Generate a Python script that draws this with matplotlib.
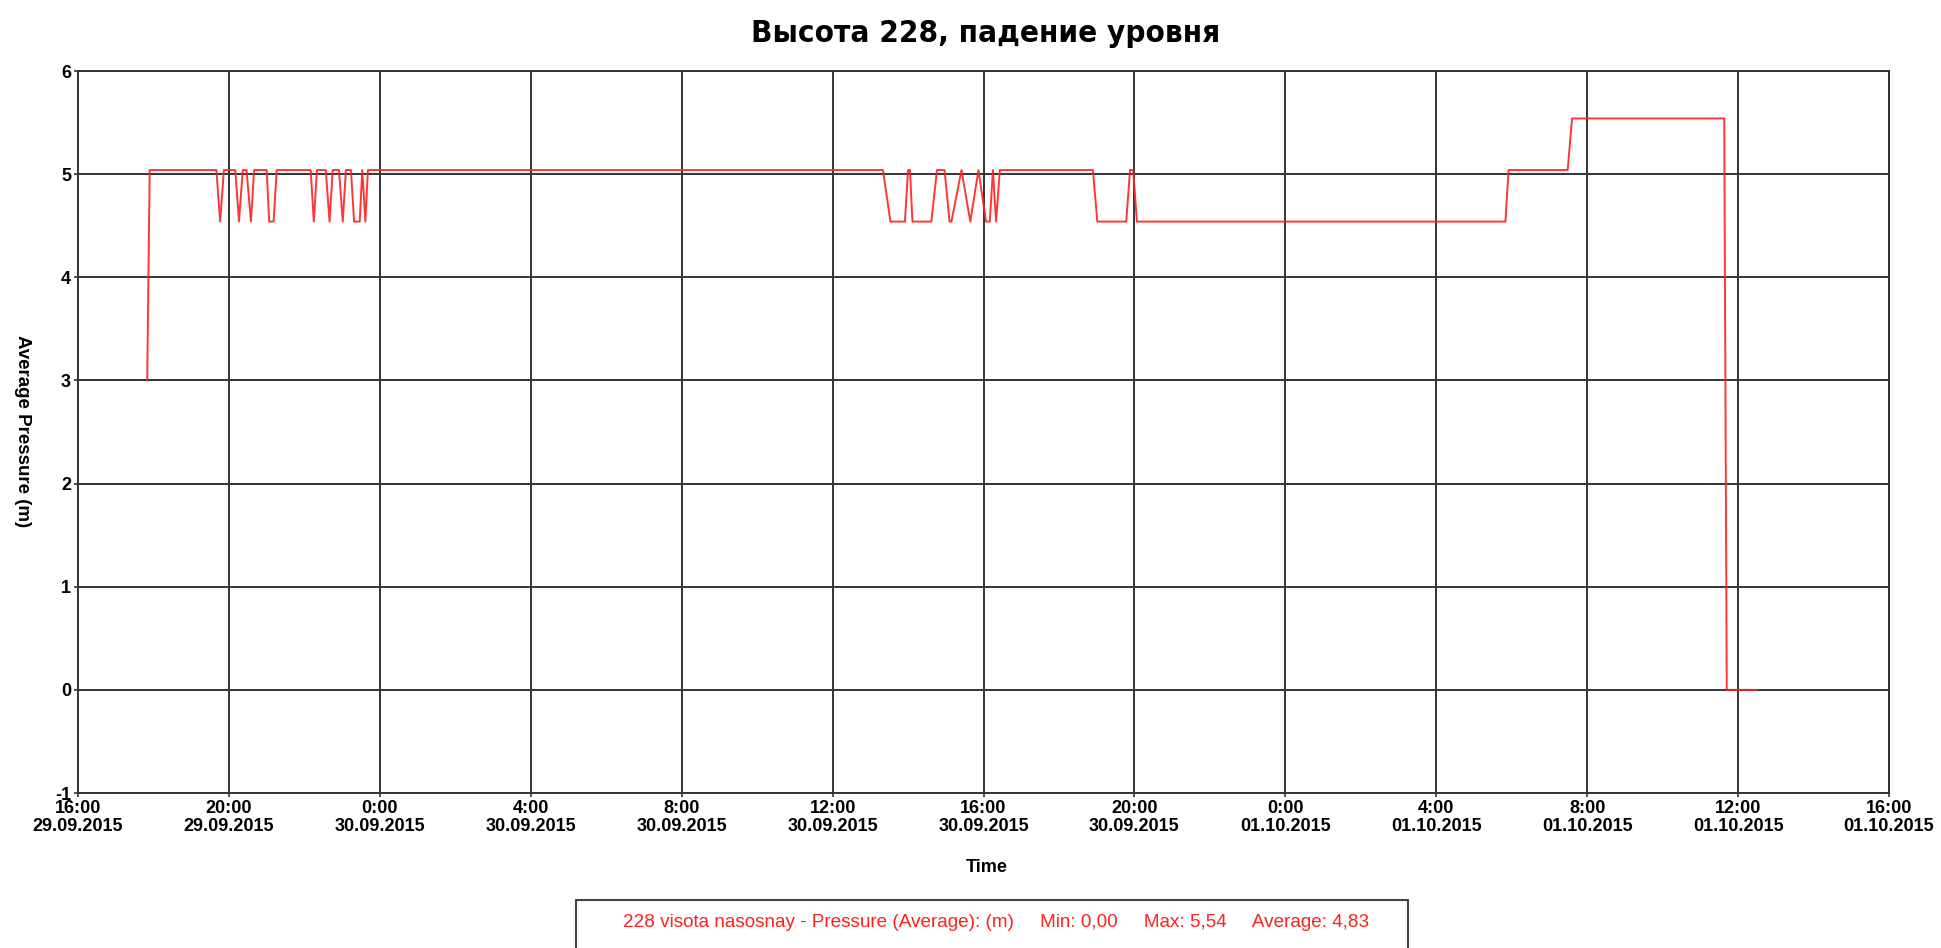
import matplotlib
matplotlib.use("Agg")
import matplotlib.pyplot as plt
import matplotlib.dates as mdates
from matplotlib.patches import Rectangle
from matplotlib.ticker import FuncFormatter, MultipleLocator
import pandas as pd

plt.rcParams["axes.unicode_minus"] = False

# levels
H, L, M = 5.04, 4.54, 5.54

times = [
    "2015-09-29 17:50", "2015-09-29 17:54",
    "2015-09-29 19:40", "2015-09-29 19:46", "2015-09-29 19:52",
    "2015-09-29 20:10", "2015-09-29 20:16", "2015-09-29 20:22",
    "2015-09-29 20:28", "2015-09-29 20:35", "2015-09-29 20:40",
    "2015-09-29 21:00", "2015-09-29 21:04", "2015-09-29 21:11", "2015-09-29 21:16",
    "2015-09-29 22:10", "2015-09-29 22:15", "2015-09-29 22:20",
    "2015-09-29 22:34", "2015-09-29 22:40", "2015-09-29 22:45",
    "2015-09-29 22:55", "2015-09-29 23:01", "2015-09-29 23:06",
    "2015-09-29 23:14", "2015-09-29 23:19", "2015-09-29 23:28",
    "2015-09-29 23:32", "2015-09-29 23:37", "2015-09-29 23:41",
    "2015-09-30 13:20", "2015-09-30 13:32", "2015-09-30 13:55",
    "2015-09-30 14:00", "2015-09-30 14:03", "2015-09-30 14:07",
    "2015-09-30 14:37", "2015-09-30 14:46", "2015-09-30 14:58",
    "2015-09-30 15:06", "2015-09-30 15:09", "2015-09-30 15:25",
    "2015-09-30 15:39", "2015-09-30 15:52", "2015-09-30 16:04",
    "2015-09-30 16:10", "2015-09-30 16:15", "2015-09-30 16:20",
    "2015-09-30 16:26",
    "2015-09-30 18:54", "2015-09-30 19:01", "2015-09-30 19:47",
    "2015-09-30 19:53", "2015-09-30 19:58", "2015-09-30 20:04",
    "2015-10-01 05:50", "2015-10-01 05:55",
    "2015-10-01 07:29", "2015-10-01 07:36",
    "2015-10-01 11:38", "2015-10-01 11:42", "2015-10-01 12:30",
]
pressure = [
    3.00, H,
    H, L, H,
    H, L, H,
    H, L, H,
    H, L, L, H,
    H, L, H,
    H, L, H,
    H, L, H,
    H, L, L,
    H, L, H,
    H, L, L,
    H, H, L,
    L, H, H,
    L, L, H,
    L, H, L,
    L, H, L,
    H,
    H, L, L,
    H, H, L,
    L, H,
    H, M,
    M, 0.0, 0.0,
]

title = "Высота 228, падение уровня"
legend_text = ("228 visota nasosnay - Pressure (Average): (m)     "
               "Min: 0,00     Max: 5,54     Average: 4,83")

df = pd.DataFrame({"time": pd.to_datetime(times), "pressure": pressure})

sans = ["Liberation Sans", "DejaVu Sans"]

fig = plt.figure(figsize=(19.41, 9.48), dpi=100)
ax = fig.add_axes([0.0402, 0.1635, 0.9330, 0.7616])

ax.plot(df["time"], df["pressure"], color="#ff2020", lw=1.4, alpha=0.9, zorder=3)

ax.set_xlim(pd.Timestamp("2015-09-29 16:00"), pd.Timestamp("2015-10-01 16:00"))
ax.set_ylim(-1, 6)
ax.yaxis.set_major_locator(MultipleLocator(1))
ax.xaxis.set_major_locator(mdates.HourLocator(byhour=[0, 4, 8, 12, 16, 20]))


def fmt(x, pos):
    d = mdates.num2date(x)
    return f"{d.hour}:{d.minute:02d}\n{d:%d.%m.%Y}"


ax.xaxis.set_major_formatter(FuncFormatter(fmt))
ax.grid(True, color="#333333", lw=1.4)
for s in ax.spines.values():
    s.set_color("#333333")
    s.set_linewidth(1.4)
ax.tick_params(axis="both", length=3, width=1.2, color="#333333", pad=2)
for lab in ax.get_xticklabels() + ax.get_yticklabels():
    lab.set_family(sans)
    lab.set_fontweight("bold")
    lab.set_fontsize(13)
for lab in ax.get_xticklabels():
    lab.set_linespacing(1.1)

fig.text(0.508, 0.965, title, ha="center", va="center", family="DejaVu Sans",
         fontstretch="condensed", fontweight="bold", fontsize=22.5)
fig.text(0.0115, 0.545, "Average Pressure (m)", rotation=-90, ha="center",
         va="center", family=sans, fontweight="bold", fontsize=13.5)
fig.text(0.5085, 0.0854, "Time", ha="center", va="center", family=sans,
         fontweight="bold", fontsize=13)

fig.patches.append(Rectangle((0.2968, -0.01), 0.4287, 0.0606, transform=fig.transFigure,
                             fill=False, edgecolor="#444444", lw=1.5))
fig.text(0.513, 0.0274, legend_text, ha="center", va="center", family=sans,
         color="#ff2020", fontsize=13.6)

fig.savefig("out.png", dpi=100)
